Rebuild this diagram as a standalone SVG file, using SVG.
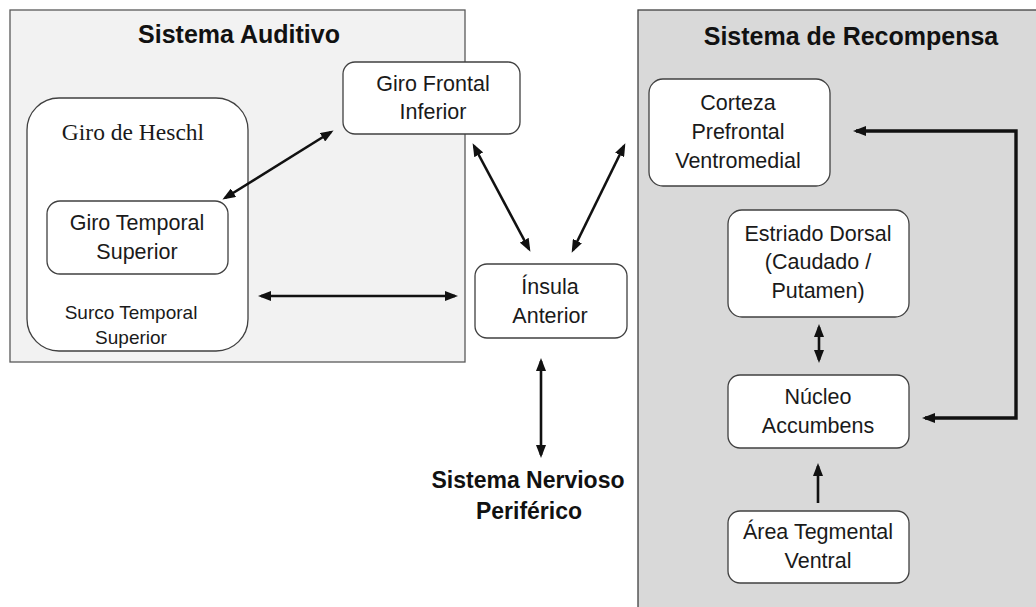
<svg xmlns="http://www.w3.org/2000/svg" width="1036" height="607" viewBox="0 0 1036 607">
<defs>
<style>
.panelA{fill:#f2f2f2;stroke:#595959;stroke-width:1.3}
.panelB{fill:#d9d9d9;stroke:#404040;stroke-width:1.3}
.node{fill:#ffffff;stroke:#404040;stroke-width:1.3}
.t{font-family:"Liberation Sans",Arial,sans-serif;font-size:21.5px;fill:#1a1a1a;text-anchor:middle}
.ts{font-family:"Liberation Sans",Arial,sans-serif;font-size:19px;fill:#1a1a1a;text-anchor:middle}
.tb{font-family:"Liberation Sans",Arial,sans-serif;font-size:25px;font-weight:bold;fill:#111;text-anchor:middle}
.tn{font-family:"Liberation Sans",Arial,sans-serif;font-size:23px;font-weight:bold;fill:#111;text-anchor:middle}
.tser{font-family:"Liberation Serif","Times New Roman",serif;font-size:23.5px;fill:#1a1a1a;text-anchor:middle}
.c{fill:none;stroke:#111;stroke-width:2.6}
.cl{fill:none;stroke:#111;stroke-width:3.4}
</style>
<marker id="ah" markerUnits="userSpaceOnUse" markerWidth="13" markerHeight="10" refX="10" refY="5" orient="auto-start-reverse">
<path d="M0,0 L13,5 L0,10 z" fill="#111"/>
</marker>
</defs>

<g id="panel-auditivo">
<rect class="panelA" x="10" y="10" width="455" height="352"/>
<text class="tb" x="239" y="43">Sistema Auditivo</text>
</g>

<g id="panel-recompensa">
<rect class="panelB" x="638" y="10" width="410" height="610"/>
<text class="tb" x="851" y="45">Sistema de Recompensa</text>
</g>

<g id="heschl">
<rect class="node" x="27" y="98" width="221" height="253" rx="32"/>
<text class="tser" x="133" y="140">Giro de Heschl</text>
<text class="ts" x="131" y="319">Surco Temporal</text>
<text class="ts" x="131" y="344">Superior</text>
</g>

<g id="gts">
<rect class="node" x="47" y="201" width="181" height="73" rx="13"/>
<text class="t" x="137" y="230">Giro Temporal</text>
<text class="t" x="137" y="259">Superior</text>
</g>

<g id="gfi">
<rect class="node" x="343" y="62" width="177" height="72" rx="12"/>
<text class="t" x="433" y="91">Giro Frontal</text>
<text class="t" x="433" y="119">Inferior</text>
</g>

<g id="insula">
<rect class="node" x="475" y="264" width="152" height="74" rx="12"/>
<text class="t" x="550" y="294">Ínsula</text>
<text class="t" x="550" y="323">Anterior</text>
</g>

<g id="snp">
<text class="tn" x="528" y="488">Sistema Nervioso</text>
<text class="tn" x="529" y="519">Periférico</text>
</g>

<g id="cpvm">
<rect class="node" x="649" y="79" width="181" height="107" rx="14"/>
<text class="t" x="738" y="110">Corteza</text>
<text class="t" x="738" y="139">Prefrontal</text>
<text class="t" x="738" y="168">Ventromedial</text>
</g>

<g id="estriado">
<rect class="node" x="728" y="210" width="181" height="107" rx="14"/>
<text class="t" x="818" y="241">Estriado Dorsal</text>
<text class="t" x="818" y="269">(Caudado /</text>
<text class="t" x="818" y="298">Putamen)</text>
</g>

<g id="accumbens">
<rect class="node" x="728" y="375" width="181" height="73" rx="12"/>
<text class="t" x="818" y="404">Núcleo</text>
<text class="t" x="818" y="433">Accumbens</text>
</g>

<g id="atv">
<rect class="node" x="728" y="511" width="181" height="72" rx="12"/>
<text class="t" x="818" y="539">Área Tegmental</text>
<text class="t" x="818" y="568">Ventral</text>
</g>

<g id="connectors">
<line class="c" x1="225" y1="198" x2="331" y2="132" marker-start="url(#ah)" marker-end="url(#ah)"/>
<line class="c" x1="261" y1="296" x2="455" y2="296" marker-start="url(#ah)" marker-end="url(#ah)"/>
<line class="c" x1="474" y1="146" x2="529" y2="249" marker-start="url(#ah)" marker-end="url(#ah)"/>
<line class="c" x1="573" y1="250" x2="624" y2="146" marker-start="url(#ah)" marker-end="url(#ah)"/>
<line class="c" x1="541" y1="361" x2="541" y2="455" marker-start="url(#ah)" marker-end="url(#ah)"/>
<line class="c" x1="819" y1="327" x2="819" y2="360" marker-start="url(#ah)" marker-end="url(#ah)"/>
<line class="c" x1="818" y1="503" x2="818" y2="466" marker-end="url(#ah)"/>
<polyline class="cl" points="856,131 1016,131 1016,418 925,418" marker-start="url(#ah)" marker-end="url(#ah)"/>
</g>
</svg>
